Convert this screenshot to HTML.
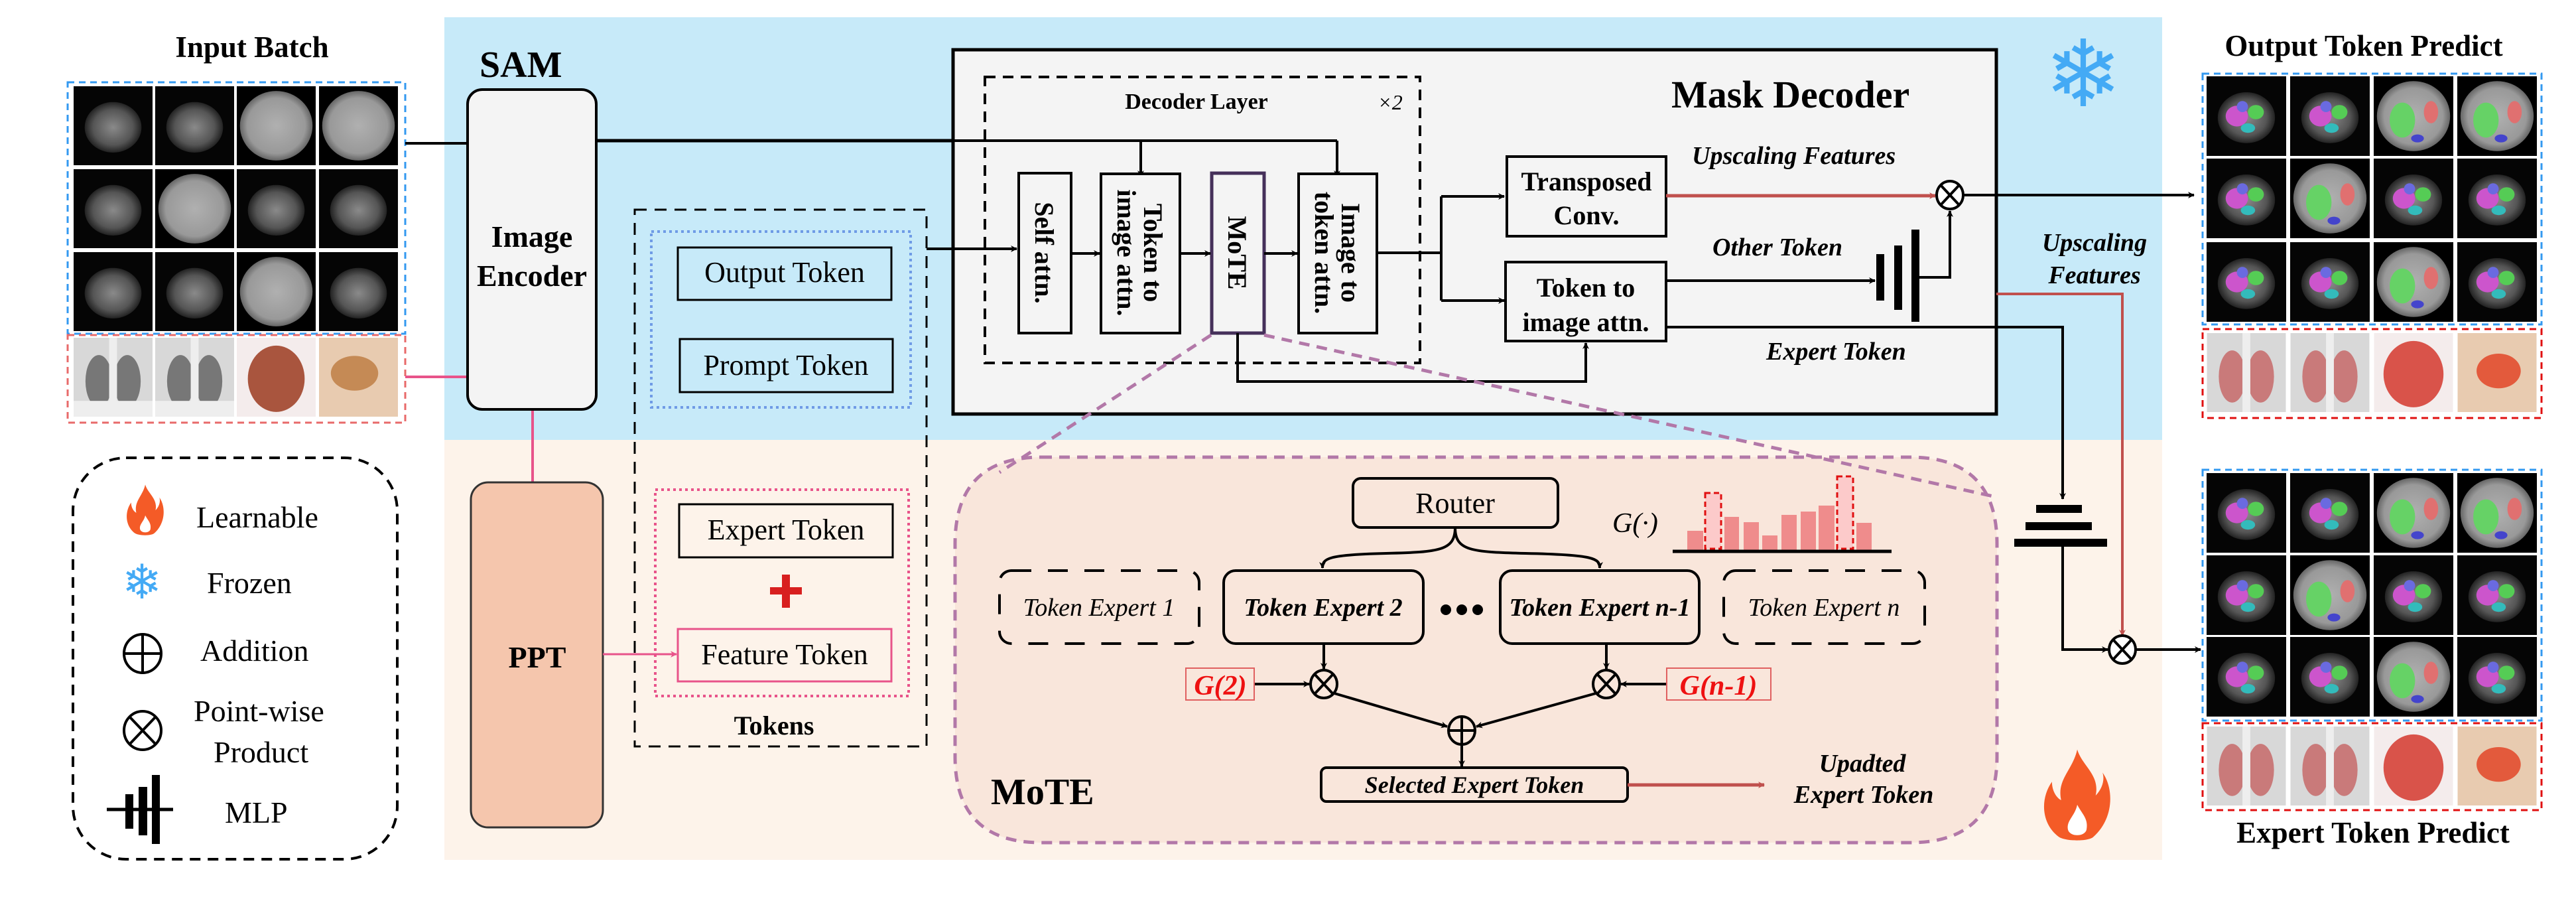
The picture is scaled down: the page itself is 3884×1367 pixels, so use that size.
<!DOCTYPE html>
<html><head><meta charset="utf-8"><style>
html,body{margin:0;padding:0;background:#fff;}
svg{display:block;font-family:"Liberation Serif",serif;}
text{font-family:"Liberation Serif",serif;}
</style></head><body>
<svg width="3884" height="1367" viewBox="0 0 3884 1367" xmlns="http://www.w3.org/2000/svg" font-family="Liberation Serif, serif">
<defs>
<marker id="ab" markerWidth="10" markerHeight="10" refX="9" refY="5" orient="auto" markerUnits="userSpaceOnUse" viewBox="0 0 10 10"><path d="M0,0 L10,5 L0,10 L3,5 z" fill="#000"/></marker>
<marker id="ar" markerWidth="10" markerHeight="10" refX="9" refY="5" orient="auto" markerUnits="userSpaceOnUse" viewBox="0 0 10 10"><path d="M0,0 L10,5 L0,10 L3,5 z" fill="#c0504d"/></marker>
<marker id="ap" markerWidth="10" markerHeight="10" refX="9" refY="5" orient="auto" markerUnits="userSpaceOnUse" viewBox="0 0 10 10"><path d="M0,0 L10,5 L0,10 L3,5 z" fill="#e8538a"/></marker>
<radialGradient id="gct"><stop offset="0" stop-color="#8a8a8a"/><stop offset="0.7" stop-color="#555"/><stop offset="1" stop-color="#222"/></radialGradient>
<radialGradient id="gct2"><stop offset="0" stop-color="#b0b0b0"/><stop offset="0.8" stop-color="#999"/><stop offset="1" stop-color="#666"/></radialGradient>
<symbol id="mr" viewBox="0 0 100 100"><rect width="100" height="100" fill="#050505"/><ellipse cx="50" cy="52" rx="36" ry="32" fill="url(#gct)"/></symbol>
<symbol id="ctl" viewBox="0 0 100 100"><rect width="100" height="100" fill="#000"/><ellipse cx="50" cy="50" rx="46" ry="44" fill="url(#gct2)"/></symbol>
<symbol id="xr" viewBox="0 0 100 100"><rect width="100" height="100" fill="#d8d8d8"/><ellipse cx="32" cy="55" rx="17" ry="33" fill="#777"/><ellipse cx="68" cy="55" rx="17" ry="33" fill="#777"/><rect x="45" y="0" width="10" height="100" fill="#eee"/><rect x="0" y="80" width="100" height="20" fill="#eee"/></symbol>
<symbol id="sk1" viewBox="0 0 100 100"><rect width="100" height="100" fill="#f4ecec"/><ellipse cx="50" cy="52" rx="36" ry="42" fill="#a9553e"/></symbol>
<symbol id="sk2" viewBox="0 0 100 100"><rect width="100" height="100" fill="#e8cbb0"/><ellipse cx="45" cy="45" rx="30" ry="22" fill="#c58a55"/></symbol>
<symbol id="xrp" viewBox="0 0 100 100"><rect width="100" height="100" fill="#d8d8d8"/><ellipse cx="32" cy="55" rx="17" ry="33" fill="#c97a7a"/><ellipse cx="68" cy="55" rx="17" ry="33" fill="#c97a7a"/><rect x="45" y="0" width="10" height="100" fill="#eee"/></symbol>
<symbol id="sk1p" viewBox="0 0 100 100"><rect width="100" height="100" fill="#f4ecec"/><ellipse cx="50" cy="52" rx="38" ry="42" fill="#d9534a"/></symbol>
<symbol id="sk2p" viewBox="0 0 100 100"><rect width="100" height="100" fill="#e8cbb0"/><ellipse cx="52" cy="48" rx="28" ry="22" fill="#e35a3c"/></symbol>
<symbol id="seg" viewBox="0 0 100 100"><rect width="100" height="100" fill="#050505"/><ellipse cx="50" cy="52" rx="36" ry="32" fill="url(#gct)"/><ellipse cx="38" cy="50" rx="14" ry="13" fill="#cc55cc"/><ellipse cx="62" cy="45" rx="10" ry="9" fill="#55cc55"/><ellipse cx="52" cy="65" rx="9" ry="6" fill="#33bbbb"/><ellipse cx="45" cy="38" rx="7" ry="7" fill="#6a6ae0"/></symbol>
<symbol id="segl" viewBox="0 0 100 100"><rect width="100" height="100" fill="#000"/><ellipse cx="50" cy="50" rx="46" ry="44" fill="url(#gct2)"/><ellipse cx="36" cy="55" rx="16" ry="22" fill="#66d266"/><ellipse cx="72" cy="45" rx="9" ry="14" fill="#e07070"/><ellipse cx="55" cy="78" rx="8" ry="5" fill="#4444cc"/></symbol>
<symbol id="flame" viewBox="0 0 60 80"><path d="M30,0 C34,14 50,22 46,40 C52,34 54,26 52,20 C62,34 62,60 44,76 C40,80 20,80 14,76 C-2,64 -2,42 8,28 C8,36 12,42 16,44 C12,26 26,18 30,0 z" fill="#f45b27"/><path d="M30,48 C34,56 40,60 38,70 C36,76 24,76 22,70 C20,62 28,58 30,48 z" fill="#fff"/></symbol>
</defs>

<rect x="670" y="26" width="2590" height="637" fill="#c7eaf9"/>
<rect x="670" y="663" width="2590" height="633" fill="#fdf3ea"/>

<text x="380" y="86" font-size="45" font-weight="bold" text-anchor="middle">Input Batch</text>
<text x="723" y="116" font-size="56" font-weight="bold">SAM</text>
<text x="3564" y="84" font-size="45" font-weight="bold" text-anchor="middle">Output Token Predict</text>
<text x="3578" y="1270" font-size="45" font-weight="bold" text-anchor="middle">Expert Token Predict</text>

<g>
<use href="#mr" x="111" y="130" width="119" height="119"/><use href="#mr" x="234" y="130" width="119" height="119"/><use href="#ctl" x="357" y="130" width="119" height="119"/><use href="#ctl" x="481" y="130" width="119" height="119"/>
<use href="#mr" x="111" y="255" width="119" height="119"/><use href="#ctl" x="234" y="255" width="119" height="119"/><use href="#mr" x="357" y="255" width="119" height="119"/><use href="#mr" x="481" y="255" width="119" height="119"/>
<use href="#mr" x="111" y="380" width="119" height="119"/><use href="#mr" x="234" y="380" width="119" height="119"/><use href="#ctl" x="357" y="380" width="119" height="119"/><use href="#mr" x="481" y="380" width="119" height="119"/>
<use href="#xr" x="111" y="509" width="119" height="119"/><use href="#xr" x="234" y="509" width="119" height="119"/><use href="#sk1" x="357" y="509" width="119" height="119"/><use href="#sk2" x="481" y="509" width="119" height="119"/>
</g>
<rect x="102" y="124" width="509" height="379" fill="none" stroke="#3399f0" stroke-width="3" stroke-dasharray="10,7"/>
<rect x="102" y="505" width="509" height="132" fill="none" stroke="#e86a6a" stroke-width="3" stroke-dasharray="10,7"/>

<g>
<use href="#seg" x="3327" y="115" width="120" height="120"/><use href="#seg" x="3453" y="115" width="120" height="120"/><use href="#segl" x="3579" y="115" width="120" height="120"/><use href="#segl" x="3705" y="115" width="120" height="120"/>
<use href="#seg" x="3327" y="239" width="120" height="120"/><use href="#segl" x="3453" y="239" width="120" height="120"/><use href="#seg" x="3579" y="239" width="120" height="120"/><use href="#seg" x="3705" y="239" width="120" height="120"/>
<use href="#seg" x="3327" y="365" width="120" height="120"/><use href="#seg" x="3453" y="365" width="120" height="120"/><use href="#segl" x="3579" y="365" width="120" height="120"/><use href="#seg" x="3705" y="365" width="120" height="120"/>
<use href="#xrp" x="3327" y="502" width="120" height="119"/><use href="#xrp" x="3453" y="502" width="120" height="119"/><use href="#sk1p" x="3579" y="502" width="120" height="119"/><use href="#sk2p" x="3705" y="502" width="120" height="119"/>
</g>
<rect x="3321" y="111" width="511" height="378" fill="none" stroke="#3399f0" stroke-width="3" stroke-dasharray="10,7"/>
<rect x="3321" y="496" width="511" height="134" fill="none" stroke="#e01010" stroke-width="3" stroke-dasharray="10,7"/>
<g>
<use href="#seg" x="3327" y="713" width="120" height="120"/><use href="#seg" x="3453" y="713" width="120" height="120"/><use href="#segl" x="3579" y="713" width="120" height="120"/><use href="#segl" x="3705" y="713" width="120" height="120"/>
<use href="#seg" x="3327" y="837" width="120" height="120"/><use href="#segl" x="3453" y="837" width="120" height="120"/><use href="#seg" x="3579" y="837" width="120" height="120"/><use href="#seg" x="3705" y="837" width="120" height="120"/>
<use href="#seg" x="3327" y="960" width="120" height="120"/><use href="#seg" x="3453" y="960" width="120" height="120"/><use href="#segl" x="3579" y="960" width="120" height="120"/><use href="#seg" x="3705" y="960" width="120" height="120"/>
<use href="#xrp" x="3327" y="1095" width="120" height="119"/><use href="#xrp" x="3453" y="1095" width="120" height="119"/><use href="#sk1p" x="3579" y="1095" width="120" height="119"/><use href="#sk2p" x="3705" y="1095" width="120" height="119"/>
</g>
<rect x="3321" y="708" width="511" height="378" fill="none" stroke="#3399f0" stroke-width="3" stroke-dasharray="10,7"/>
<rect x="3321" y="1090" width="511" height="131" fill="none" stroke="#e01010" stroke-width="3" stroke-dasharray="10,7"/>

<rect x="110" y="690" width="489" height="605" rx="80" fill="none" stroke="#000" stroke-width="4" stroke-dasharray="16,11"/>
<use href="#flame" x="190" y="729" width="58" height="80"/>
<text x="214" y="902" font-size="72" fill="#44aaf5" text-anchor="middle" font-family="DejaVu Sans">❄</text>
<text x="296" y="795" font-size="46">Learnable</text>
<text x="312" y="894" font-size="46">Frozen</text>
<text x="302" y="996" font-size="46">Addition</text>
<text x="292" y="1087" font-size="46">Point-wise</text>
<text x="322" y="1149" font-size="46">Product</text>
<text x="339" y="1240" font-size="46">MLP</text>
<g stroke="#000" stroke-width="4" fill="none">
<ellipse cx="215" cy="985" rx="28" ry="29"/><line x1="187" y1="985" x2="243" y2="985"/><line x1="215" y1="956" x2="215" y2="1014"/>
<ellipse cx="215" cy="1101" rx="28" ry="29"/><line x1="195" y1="1080" x2="235" y2="1122"/><line x1="235" y1="1080" x2="195" y2="1122"/>
<line x1="161" y1="1220" x2="261" y2="1220" stroke-width="5"/>
</g>
<rect x="189" y="1197" width="12" height="52"/><rect x="209" y="1186" width="13" height="73"/><rect x="229" y="1168" width="12" height="104"/>

<line x1="611" y1="216" x2="705" y2="216" stroke="#000" stroke-width="4"/>
<line x1="611" y1="568" x2="705" y2="568" stroke="#e8538a" stroke-width="4"/>
<line x1="803" y1="617" x2="803" y2="727" stroke="#e8538a" stroke-width="4"/>
<line x1="899" y1="212" x2="2016" y2="212" stroke="#000" stroke-width="5"/>

<rect x="705" y="135" width="194" height="482" rx="22" fill="#f4f4f4" stroke="#000" stroke-width="4"/>
<text x="802" y="372" font-size="46" font-weight="bold" text-anchor="middle">Image</text>
<text x="802" y="431" font-size="46" font-weight="bold" text-anchor="middle">Encoder</text>
<rect x="710" y="727" width="199" height="520" rx="26" fill="#f5c6ad" stroke="#333" stroke-width="3"/>
<text x="810" y="1006" font-size="46" font-weight="bold" text-anchor="middle">PPT</text>
<line x1="909" y1="986" x2="1020" y2="986" stroke="#e8538a" stroke-width="3" marker-end="url(#ap)"/>

<rect x="957" y="316" width="440" height="809" fill="none" stroke="#000" stroke-width="3" stroke-dasharray="18,12"/>
<rect x="982" y="349" width="391" height="265" fill="none" stroke="#6f9be6" stroke-width="4" stroke-dasharray="4,5"/>
<rect x="1022" y="373" width="322" height="79" fill="none" stroke="#000" stroke-width="3"/>
<text x="1183" y="425" font-size="44" text-anchor="middle">Output Token</text>
<rect x="1025" y="511" width="321" height="80" fill="none" stroke="#000" stroke-width="3"/>
<text x="1185" y="565" font-size="44" text-anchor="middle">Prompt Token</text>
<rect x="988" y="738" width="382" height="311" fill="none" stroke="#e8538a" stroke-width="4" stroke-dasharray="4,5"/>
<rect x="1024" y="760" width="322" height="80" fill="none" stroke="#000" stroke-width="3"/>
<text x="1185" y="813" font-size="44" text-anchor="middle">Expert Token</text>
<rect x="1161" y="885" width="48" height="11" fill="#d81f1f"/><rect x="1179" y="866" width="12" height="50" fill="#d81f1f"/>
<rect x="1022" y="948" width="322" height="79" fill="none" stroke="#e8538a" stroke-width="3"/>
<text x="1183" y="1001" font-size="44" text-anchor="middle">Feature Token</text>
<text x="1167" y="1107" font-size="40" font-weight="bold" text-anchor="middle">Tokens</text>

<rect x="1437" y="75" width="1573" height="549" fill="#f4f4f4" stroke="#000" stroke-width="5"/>
<text x="2520" y="162" font-size="58" font-weight="bold">Mask Decoder</text>
<rect x="1485" y="116" width="656" height="431" fill="none" stroke="#000" stroke-width="4" stroke-dasharray="16,11"/>
<text x="1804" y="164" font-size="34" font-weight="bold" text-anchor="middle">Decoder Layer</text>
<text x="2096" y="165" font-size="32" font-style="italic" text-anchor="middle">×2</text>
<line x1="1437" y1="212" x2="2016" y2="212" stroke="#000" stroke-width="4"/>
<line x1="1720" y1="212" x2="1720" y2="266" stroke="#000" stroke-width="4" marker-end="url(#ab)"/>
<line x1="2016" y1="212" x2="2016" y2="266" stroke="#000" stroke-width="4" marker-end="url(#ab)"/>
<line x1="1397" y1="375" x2="1533" y2="375" stroke="#000" stroke-width="4" marker-end="url(#ab)"/>
<g stroke="#000" stroke-width="4" fill="#f4f4f4">
<rect x="1536" y="261" width="79" height="241"/>
<rect x="1660" y="262" width="119" height="240"/>
<rect x="1958" y="262" width="118" height="240"/>
</g>
<rect x="1827" y="261" width="79" height="241" fill="#f4f4f4" stroke="#45305a" stroke-width="5"/>
<g font-size="40" font-weight="bold" text-anchor="middle">
<text transform="translate(1575,381) rotate(90)" y="14">Self attn.</text>
<text transform="translate(1719,381) rotate(90)" y="-6">Token to</text>
<text transform="translate(1719,381) rotate(90)" y="34">image attn.</text>
<text transform="translate(1866,381) rotate(90)" y="14">MoTE</text>
<text transform="translate(2017,381) rotate(90)" y="-6">Image to</text>
<text transform="translate(2017,381) rotate(90)" y="34">token attn.</text>
</g>
<g stroke="#000" stroke-width="4" fill="none">
<line x1="1615" y1="382" x2="1658" y2="382" marker-end="url(#ab)"/>
<line x1="1779" y1="382" x2="1825" y2="382" marker-end="url(#ab)"/>
<line x1="1906" y1="382" x2="1956" y2="382" marker-end="url(#ab)"/>
<polyline points="2076,381 2173,381"/>
<polyline points="2173,296 2173,453"/>
<line x1="2173" y1="296" x2="2268" y2="296" marker-end="url(#ab)"/>
<line x1="2173" y1="453" x2="2268" y2="453" marker-end="url(#ab)"/>
<polyline points="1866,502 1866,575 2391,575 2391,517" marker-end="url(#ab)"/>
</g>
<rect x="2272" y="236" width="240" height="120" fill="#f4f4f4" stroke="#000" stroke-width="4"/>
<text x="2392" y="287" font-size="40" font-weight="bold" text-anchor="middle">Transposed</text>
<text x="2392" y="338" font-size="40" font-weight="bold" text-anchor="middle">Conv.</text>
<rect x="2270" y="395" width="242" height="119" fill="#f4f4f4" stroke="#000" stroke-width="4"/>
<text x="2391" y="447" font-size="40" font-weight="bold" text-anchor="middle">Token to</text>
<text x="2391" y="499" font-size="40" font-weight="bold" text-anchor="middle">image attn.</text>
<g font-size="38" font-weight="bold" font-style="italic">
<text x="2551" y="247">Upscaling Features</text>
<text x="2582" y="385">Other Token</text>
<text x="2663" y="542">Expert Token</text>
<text x="3158" y="378" text-anchor="middle">Upscaling</text>
<text x="3158" y="427" text-anchor="middle">Features</text>
</g>
<line x1="2512" y1="295" x2="2918" y2="295" stroke="#c0504d" stroke-width="5" marker-end="url(#ar)"/>
<line x1="2512" y1="423" x2="2827" y2="423" stroke="#000" stroke-width="4" marker-end="url(#ab)"/>
<rect x="2829" y="383" width="12" height="70"/><rect x="2856" y="370" width="12" height="97"/><rect x="2882" y="346" width="12" height="139"/>
<polyline points="2894,418 2940,418 2940,318" fill="none" stroke="#000" stroke-width="4" marker-end="url(#ab)"/>
<ellipse cx="2940" cy="294" rx="20" ry="21" fill="#fff" stroke="#000" stroke-width="4"/>
<line x1="2926" y1="279" x2="2954" y2="309" stroke="#000" stroke-width="4"/><line x1="2954" y1="279" x2="2926" y2="309" stroke="#000" stroke-width="4"/>
<line x1="2960" y1="294" x2="3308" y2="294" stroke="#000" stroke-width="4" marker-end="url(#ab)"/>
<polyline points="2512,493 3110,493 3110,752" fill="none" stroke="#000" stroke-width="4" marker-end="url(#ab)"/>
<polyline points="3010,443 3200,443 3200,958" fill="none" stroke="#c0504d" stroke-width="4" marker-end="url(#ar)"/>
<rect x="3070" y="761" width="69" height="12"/><rect x="3054" y="787" width="100" height="12"/><rect x="3037" y="812" width="140" height="12"/>
<polyline points="3110,824 3110,979 3178,979" fill="none" stroke="#000" stroke-width="4" marker-end="url(#ab)"/>
<ellipse cx="3200" cy="979" rx="20" ry="21" fill="#fff" stroke="#000" stroke-width="4"/>
<line x1="3186" y1="964" x2="3214" y2="994" stroke="#000" stroke-width="4"/><line x1="3214" y1="964" x2="3186" y2="994" stroke="#000" stroke-width="4"/>
<line x1="3220" y1="979" x2="3318" y2="979" stroke="#000" stroke-width="4" marker-end="url(#ab)"/>
<text x="3141" y="160" font-size="140" fill="#44aaf5" text-anchor="middle" font-family="DejaVu Sans">❄</text>
<use href="#flame" x="3080" y="1129" width="104" height="140"/>

<path d="M1570,689 L2880,689 Q3011,689 3011,820 L3011,1140 Q3011,1270 2880,1270 L1570,1270 Q1440,1270 1440,1140 L1440,820 Q1440,689 1570,689 z" fill="#f9e6db" stroke="#b278a8" stroke-width="5" stroke-dasharray="16,11"/>
<line x1="1826" y1="505" x2="1507" y2="712" stroke="#b278a8" stroke-width="5" stroke-dasharray="16,11"/>
<line x1="1906" y1="505" x2="3005" y2="748" stroke="#b278a8" stroke-width="5" stroke-dasharray="16,11"/>
<text x="1494" y="1212" font-size="56" font-weight="bold">MoTE</text>
<rect x="2040" y="721" width="309" height="74" rx="12" fill="none" stroke="#000" stroke-width="4"/>
<text x="2194" y="773" font-size="44" text-anchor="middle">Router</text>
<path d="M2194,795 C2194,830 2170,832 2090,834 C2000,836 1994,842 1994,856" fill="none" stroke="#000" stroke-width="4" marker-end="url(#ab)"/>
<path d="M2194,795 C2194,830 2218,832 2300,834 C2405,836 2412,842 2412,856" fill="none" stroke="#000" stroke-width="4" marker-end="url(#ab)"/>
<text x="2431" y="802" font-size="42" font-style="italic">G(·)</text>
<g fill="#ef8c8c">
<rect x="2544" y="800" width="24" height="29"/><rect x="2600" y="779" width="22" height="50"/><rect x="2629" y="787" width="23" height="42"/><rect x="2657" y="807" width="23" height="22"/><rect x="2686" y="776" width="23" height="53"/><rect x="2715" y="771" width="23" height="58"/><rect x="2742" y="762" width="24" height="67"/><rect x="2799" y="788" width="23" height="41"/>
</g>
<rect x="2571" y="743" width="24" height="84" fill="#fccaca" stroke="#e01010" stroke-width="3" stroke-dasharray="8,5"/>
<rect x="2770" y="718" width="24" height="109" fill="#fccaca" stroke="#e01010" stroke-width="3" stroke-dasharray="8,5"/>
<line x1="2522" y1="831" x2="2852" y2="831" stroke="#000" stroke-width="5"/>
<rect x="1507" y="860" width="301" height="110" rx="18" fill="none" stroke="#000" stroke-width="4" stroke-dasharray="30,25"/>
<text x="1657" y="928" font-size="38" font-style="italic" text-anchor="middle">Token Expert 1</text>
<rect x="1845" y="860" width="301" height="110" rx="18" fill="none" stroke="#000" stroke-width="4"/>
<text x="1995" y="928" font-size="38" font-style="italic" font-weight="bold" text-anchor="middle">Token Expert 2</text>
<circle cx="2180" cy="919" r="8"/><circle cx="2204" cy="919" r="8"/><circle cx="2228" cy="919" r="8"/>
<rect x="2262" y="860" width="300" height="110" rx="18" fill="none" stroke="#000" stroke-width="4"/>
<text x="2412" y="928" font-size="38" font-style="italic" font-weight="bold" text-anchor="middle">Token Expert n-1</text>
<rect x="2599" y="860" width="303" height="110" rx="18" fill="none" stroke="#000" stroke-width="4" stroke-dasharray="30,25"/>
<text x="2750" y="928" font-size="38" font-style="italic" text-anchor="middle">Token Expert n</text>
<g stroke="#000" stroke-width="4" fill="none">
<line x1="1996" y1="970" x2="1996" y2="1008" marker-end="url(#ab)"/>
<line x1="2422" y1="970" x2="2422" y2="1008" marker-end="url(#ab)"/>
<line x1="1891" y1="1031" x2="1974" y2="1031" marker-end="url(#ab)"/>
<line x1="2513" y1="1031" x2="2444" y2="1031" marker-end="url(#ab)"/>
<line x1="2012" y1="1045" x2="2182" y2="1095" marker-end="url(#ab)"/>
<line x1="2406" y1="1045" x2="2226" y2="1095" marker-end="url(#ab)"/>
<line x1="2204" y1="1122" x2="2204" y2="1155" marker-end="url(#ab)"/>
<ellipse cx="1996" cy="1031" rx="20" ry="21" fill="#f9e6db"/><line x1="1982" y1="1016" x2="2010" y2="1046"/><line x1="2010" y1="1016" x2="1982" y2="1046"/>
<ellipse cx="2422" cy="1031" rx="20" ry="21" fill="#f9e6db"/><line x1="2408" y1="1016" x2="2436" y2="1046"/><line x1="2436" y1="1016" x2="2408" y2="1046"/>
<ellipse cx="2204" cy="1101" rx="20" ry="21" fill="#f9e6db"/><line x1="2184" y1="1101" x2="2224" y2="1101"/><line x1="2204" y1="1080" x2="2204" y2="1122"/>
</g>
<rect x="1788" y="1007" width="103" height="48" fill="none" stroke="#e06060" stroke-width="2"/>
<text x="1840" y="1047" font-size="42" font-style="italic" font-weight="bold" fill="#ee1111" text-anchor="middle">G(2)</text>
<rect x="2513" y="1007" width="157" height="48" fill="none" stroke="#e06060" stroke-width="2"/>
<text x="2591" y="1047" font-size="42" font-style="italic" font-weight="bold" fill="#ee1111" text-anchor="middle">G(n-1)</text>
<rect x="1992" y="1157" width="462" height="51" rx="8" fill="none" stroke="#000" stroke-width="4"/>
<text x="2223" y="1195" font-size="36" font-style="italic" font-weight="bold" text-anchor="middle">Selected Expert Token</text>
<line x1="2454" y1="1183" x2="2660" y2="1183" stroke="#c0504d" stroke-width="5" marker-end="url(#ar)"/>
<text x="2808" y="1163" font-size="38" font-style="italic" font-weight="bold" text-anchor="middle">Upadted</text>
<text x="2810" y="1210" font-size="38" font-style="italic" font-weight="bold" text-anchor="middle">Expert Token</text>
</svg>
</body></html>
